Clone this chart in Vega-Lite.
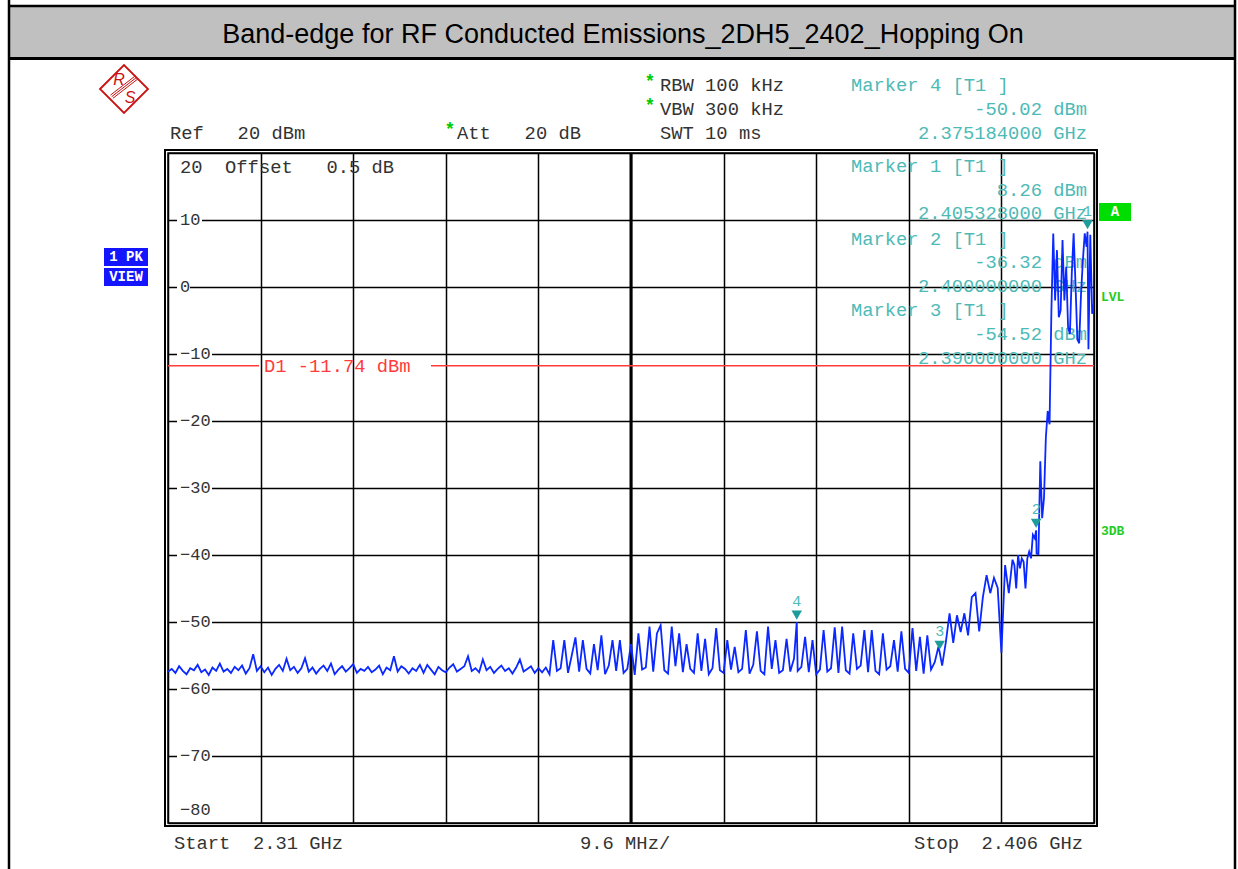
{
"$schema": "https://vega.github.io/schema/vega-lite/v6.json",
"width": 926, "height": 670,
"autosize": {"type": "none"},
"padding": {"left": 168, "top": 153, "right": 144, "bottom": 46},
"background": "white",
"config": {"view": {"stroke": "black", "strokeWidth": 1.5}, "text": {"font": "Liberation Mono", "fontSize": 18.8, "baseline": "middle", "align": "left"}},
"data": {"values": [{}]},
"datasets": {
"ylabels": [{"v":10},{"v":0},{"v":-10},{"v":-20},{"v":-30},{"v":-40},{"v":-50},{"v":-60},{"v":-70}],
"markers": [{"m":"1","f":2.405328,"p":8.26},{"m":"2","f":2.4,"p":-36.32},{"m":"3","f":2.39,"p":-54.52},{"m":"4","f":2.375184,"p":-50.02}],
"trace": [
{"f":2.310000,"p":-57.4},{"f":2.310384,"p":-57.0},{"f":2.310768,"p":-57.6},{"f":2.311152,"p":-56.6},{"f":2.311536,"p":-57.3},{"f":2.311920,"p":-57.8},{"f":2.312304,"p":-56.9},{"f":2.312688,"p":-57.2},{"f":2.313072,"p":-56.4},{"f":2.313456,"p":-57.5},
{"f":2.313840,"p":-57.1},{"f":2.314224,"p":-57.9},{"f":2.314608,"p":-56.8},{"f":2.314992,"p":-57.3},{"f":2.315376,"p":-56.2},{"f":2.315760,"p":-57.4},{"f":2.316144,"p":-57.0},{"f":2.316528,"p":-57.6},{"f":2.316912,"p":-56.7},{"f":2.317296,"p":-57.2},
{"f":2.317680,"p":-56.5},{"f":2.318064,"p":-57.7},{"f":2.318448,"p":-56.9},{"f":2.318832,"p":-54.8},{"f":2.319216,"p":-57.3},{"f":2.319600,"p":-56.6},{"f":2.319984,"p":-57.5},{"f":2.320368,"p":-56.8},{"f":2.320752,"p":-57.9},{"f":2.321136,"p":-57.0},
{"f":2.321520,"p":-56.4},{"f":2.321904,"p":-57.3},{"f":2.322288,"p":-55.5},{"f":2.322672,"p":-57.2},{"f":2.323056,"p":-56.7},{"f":2.323440,"p":-57.6},{"f":2.323824,"p":-56.9},{"f":2.324208,"p":-55.4},{"f":2.324592,"p":-57.4},{"f":2.324976,"p":-56.8},
{"f":2.325360,"p":-57.7},{"f":2.325744,"p":-57.0},{"f":2.326128,"p":-56.5},{"f":2.326512,"p":-57.3},{"f":2.326896,"p":-56.2},{"f":2.327280,"p":-57.8},{"f":2.327664,"p":-57.1},{"f":2.328048,"p":-56.6},{"f":2.328432,"p":-57.4},{"f":2.328816,"p":-56.9},
{"f":2.329200,"p":-56.3},{"f":2.329584,"p":-57.6},{"f":2.329968,"p":-57.0},{"f":2.330352,"p":-57.3},{"f":2.330736,"p":-56.7},{"f":2.331120,"p":-57.5},{"f":2.331504,"p":-57.1},{"f":2.331888,"p":-56.5},{"f":2.332272,"p":-57.8},{"f":2.332656,"p":-56.8},
{"f":2.333040,"p":-57.2},{"f":2.333424,"p":-55.1},{"f":2.333808,"p":-57.4},{"f":2.334192,"p":-56.6},{"f":2.334576,"p":-57.0},{"f":2.334960,"p":-57.7},{"f":2.335344,"p":-56.9},{"f":2.335728,"p":-57.3},{"f":2.336112,"p":-56.4},{"f":2.336496,"p":-57.6},
{"f":2.336880,"p":-56.4},{"f":2.337264,"p":-57.1},{"f":2.337648,"p":-57.8},{"f":2.338032,"p":-56.7},{"f":2.338416,"p":-57.2},{"f":2.338800,"p":-57.5},{"f":2.339184,"p":-56.8},{"f":2.339568,"p":-56.3},{"f":2.339952,"p":-57.4},{"f":2.340336,"p":-57.0},
{"f":2.340720,"p":-56.6},{"f":2.341104,"p":-55.1},{"f":2.341488,"p":-57.3},{"f":2.341872,"p":-56.9},{"f":2.342256,"p":-57.5},{"f":2.342640,"p":-55.6},{"f":2.343024,"p":-57.2},{"f":2.343408,"p":-56.7},{"f":2.343792,"p":-57.6},{"f":2.344176,"p":-57.0},
{"f":2.344560,"p":-56.5},{"f":2.344944,"p":-57.3},{"f":2.345328,"p":-56.9},{"f":2.345712,"p":-57.7},{"f":2.346096,"p":-56.8},{"f":2.346480,"p":-55.6},{"f":2.346864,"p":-57.4},{"f":2.347248,"p":-57.0},{"f":2.347632,"p":-56.6},{"f":2.348016,"p":-57.6},
{"f":2.348400,"p":-56.9},
{"f":2.348784,"p":-57.5},{"f":2.349168,"p":-56.8},{"f":2.349552,"p":-57.8},{"f":2.349936,"p":-52.7},{"f":2.350320,"p":-57.3},{"f":2.350704,"p":-56.9},{"f":2.351088,"p":-52.7},{"f":2.351472,"p":-57.6},{"f":2.351856,"p":-55.0},{"f":2.352240,"p":-52.3},
{"f":2.352624,"p":-57.4},{"f":2.353008,"p":-52.7},{"f":2.353392,"p":-57.0},{"f":2.353776,"p":-57.7},{"f":2.354160,"p":-53.3},{"f":2.354544,"p":-57.2},{"f":2.354928,"p":-52.0},{"f":2.355312,"p":-57.8},{"f":2.355696,"p":-56.5},{"f":2.356080,"p":-52.7},
{"f":2.356464,"p":-57.3},{"f":2.356848,"p":-52.7},{"f":2.357232,"p":-57.6},{"f":2.357616,"p":-57.0},{"f":2.358000,"p":-53.3},{"f":2.358384,"p":-57.9},{"f":2.358768,"p":-51.7},{"f":2.359152,"p":-57.1},{"f":2.359536,"p":-56.8},{"f":2.359920,"p":-50.7},
{"f":2.360304,"p":-57.4},{"f":2.360688,"p":-51.7},{"f":2.361072,"p":-50.5},{"f":2.361456,"p":-57.2},{"f":2.361840,"p":-57.7},{"f":2.362224,"p":-50.7},{"f":2.362608,"p":-56.6},{"f":2.362992,"p":-51.7},{"f":2.363376,"p":-57.5},{"f":2.363760,"p":-53.3},
{"f":2.364144,"p":-57.0},{"f":2.364528,"p":-57.6},{"f":2.364912,"p":-51.7},{"f":2.365296,"p":-57.3},{"f":2.365680,"p":-52.5},{"f":2.366064,"p":-57.8},{"f":2.366448,"p":-56.9},{"f":2.366832,"p":-50.9},{"f":2.367216,"p":-57.2},{"f":2.367600,"p":-57.6},
{"f":2.367984,"p":-52.7},{"f":2.368368,"p":-57.1},{"f":2.368752,"p":-53.7},{"f":2.369136,"p":-57.5},{"f":2.369520,"p":-57.0},{"f":2.369904,"p":-51.2},{"f":2.370288,"p":-57.7},{"f":2.370672,"p":-56.4},{"f":2.371056,"p":-51.4},{"f":2.371440,"p":-57.3},
{"f":2.371824,"p":-57.8},{"f":2.372208,"p":-50.7},{"f":2.372592,"p":-57.0},{"f":2.372976,"p":-52.7},{"f":2.373360,"p":-57.6},{"f":2.373744,"p":-57.2},{"f":2.374128,"p":-52.5},{"f":2.374512,"p":-57.4},{"f":2.374896,"p":-55.5},{"f":2.375184,"p":-50.02},
{"f":2.375280,"p":-57.3},{"f":2.375664,"p":-56.7},{"f":2.376048,"p":-52.2},{"f":2.376432,"p":-57.5},{"f":2.376816,"p":-52.7},{"f":2.377200,"p":-57.8},{"f":2.377584,"p":-57.1},{"f":2.377968,"p":-51.2},{"f":2.378352,"p":-57.4},{"f":2.378736,"p":-56.9},
{"f":2.379120,"p":-50.8},{"f":2.379504,"p":-57.6},{"f":2.379888,"p":-50.7},{"f":2.380272,"p":-57.2},{"f":2.380656,"p":-57.7},{"f":2.381040,"p":-51.7},{"f":2.381424,"p":-57.0},{"f":2.381808,"p":-56.5},{"f":2.382192,"p":-51.2},{"f":2.382576,"p":-57.5},
{"f":2.382960,"p":-51.2},{"f":2.383344,"p":-57.3},{"f":2.383728,"p":-57.8},{"f":2.384112,"p":-51.7},{"f":2.384496,"p":-57.1},{"f":2.384880,"p":-56.6},{"f":2.385264,"p":-52.7},{"f":2.385648,"p":-57.4},{"f":2.386032,"p":-51.4},{"f":2.386416,"p":-57.0},
{"f":2.386800,"p":-57.6},{"f":2.387184,"p":-50.9},{"f":2.387568,"p":-57.3},{"f":2.387952,"p":-52.2},{"f":2.388336,"p":-57.7},{"f":2.388720,"p":-52.0},{"f":2.389104,"p":-57.1},{"f":2.389488,"p":-56.0},{"f":2.389872,"p":-53.7},{"f":2.390000,"p":-54.52},
{"f":2.390256,"p":-56.5},{"f":2.390640,"p":-53.0},{"f":2.391024,"p":-48.7},{"f":2.391408,"p":-53.1},{"f":2.391792,"p":-49.0},{"f":2.392176,"p":-51.5},{"f":2.392560,"p":-48.7},{"f":2.392944,"p":-52.0},{"f":2.393328,"p":-46.3},{"f":2.393712,"p":-45.7},
{"f":2.394096,"p":-51.4},{"f":2.394480,"p":-46.3},{"f":2.394864,"p":-43.0},{"f":2.395248,"p":-45.7},{"f":2.395632,"p":-43.4},{"f":2.396016,"p":-44.9},{"f":2.396400,"p":-54.6},{"f":2.396784,"p":-41.5},{"f":2.397168,"p":-45.7},{"f":2.397552,"p":-40.7},
{"f":2.397744,"p":-41.5},{"f":2.397936,"p":-45.0},{"f":2.398128,"p":-40.0},{"f":2.398320,"p":-42.0},{"f":2.398512,"p":-40.5},{"f":2.398704,"p":-41.0},{"f":2.398896,"p":-45.0},{"f":2.399088,"p":-40.5},{"f":2.399280,"p":-39.5},{"f":2.399472,"p":-40.5},
{"f":2.399664,"p":-37.0},{"f":2.399856,"p":-37.5},{"f":2.400000,"p":-36.32},{"f":2.400048,"p":-39.8},{"f":2.400240,"p":-39.9},{"f":2.400432,"p":-26.0},{"f":2.400624,"p":-34.5},{"f":2.400816,"p":-31.5},{"f":2.401008,"p":-22.5},{"f":2.401200,"p":-18.5},
{"f":2.401392,"p":-20.5},{"f":2.401584,"p":-3.5},{"f":2.401776,"p":8.0},{"f":2.401968,"p":-2.0},{"f":2.402160,"p":5.5},{"f":2.402352,"p":-4.5},{"f":2.402544,"p":-3.5},{"f":2.402736,"p":7.0},{"f":2.402928,"p":-2.0},{"f":2.403120,"p":3.0},
{"f":2.403312,"p":-6.0},{"f":2.403504,"p":-7.0},{"f":2.403696,"p":2.0},{"f":2.403888,"p":8.0},{"f":2.404080,"p":0.5},{"f":2.404272,"p":-7.8},{"f":2.404464,"p":-8.4},{"f":2.404656,"p":-1.0},{"f":2.404848,"p":4.0},{"f":2.405040,"p":8.0},
{"f":2.405232,"p":6.0},{"f":2.405328,"p":8.26},{"f":2.405424,"p":-9.3},{"f":2.405616,"p":7.8},{"f":2.405808,"p":-4.0},{"f":2.406000,"p":-2.5}
]
},
"layer": [
{"mark": {"type": "rect", "color": "#C0C0C0"}, "encoding": {"x": {"datum": 2.293516, "scale": {"domain": [2.31, 2.406], "nice": false, "zero": false}}, "x2": {"datum": 2.420618}, "y": {"datum": 41.94, "scale": {"domain": [-80, 20], "nice": false, "zero": false}}, "y2": {"datum": 34.104}}},
{"mark": {"type": "rule", "color": "black", "strokeWidth": 2.5}, "encoding": {"x": {"datum": 2.293413}, "x2": {"datum": 2.420722}, "y": {"datum": 41.94}}},
{"mark": {"type": "rule", "color": "black", "strokeWidth": 3}, "encoding": {"x": {"datum": 2.293413}, "x2": {"datum": 2.420722}, "y": {"datum": 34.104}}},
{"mark": {"type": "rule", "color": "black", "strokeWidth": 2.5}, "encoding": {"x": {"datum": 2.293516}, "y": {"datum": 42.836}, "y2": {"datum": -86.866}}},
{"mark": {"type": "rule", "color": "black", "strokeWidth": 2.5}, "encoding": {"x": {"datum": 2.420618}, "y": {"datum": 42.836}, "y2": {"datum": -86.866}}},
{"mark": {"type": "text", "text": "Band-edge for RF Conducted Emissions_2DH5_2402_Hopping On", "font": "Liberation Sans", "fontSize": 27, "align": "center", "color": "black"}, "encoding": {"x": {"datum": 2.357171}, "y": {"datum": 37.612}}},
{"mark": {"type": "point", "shape": "diamond", "size": 2304, "filled": false, "stroke": "#CC1111", "strokeWidth": 1.8, "opacity": 1}, "encoding": {"x": {"datum": 2.305439}, "y": {"datum": 29.552}}},
{"mark": {"type": "rule", "color": "#CC1111", "strokeWidth": 1}, "encoding": {"x": {"datum": 2.304163}, "x2": {"datum": 2.306755}, "y": {"datum": 28.403}, "y2": {"datum": 31.299}}},
{"mark": {"type": "rule", "color": "#CC1111", "strokeWidth": 1}, "encoding": {"x": {"datum": 2.304288}, "x2": {"datum": 2.306879}, "y": {"datum": 28.164}, "y2": {"datum": 31.06}}},
{"mark": {"type": "rule", "color": "#CC1111", "strokeWidth": 1}, "encoding": {"x": {"datum": 2.304039}, "x2": {"datum": 2.306631}, "y": {"datum": 28.642}, "y2": {"datum": 31.537}}},
{"mark": {"type": "text", "text": "R", "font": "Liberation Sans", "fontSize": 16, "fontStyle": "italic", "align": "center", "color": "#CC1111"}, "encoding": {"x": {"datum": 2.30492}, "y": {"datum": 30.896}}},
{"mark": {"type": "text", "text": "S", "font": "Liberation Sans", "fontSize": 16, "fontStyle": "italic", "align": "center", "color": "#CC1111"}, "encoding": {"x": {"datum": 2.30606}, "y": {"datum": 28.209}}},
{"mark": {"type": "text", "text": "Ref\u00a0\u00a0\u00a020 dBm", "color": "#333333"}, "encoding": {"x": {"datum": 2.310207}, "y": {"datum": 22.985}}},
{"mark": {"type": "text", "text": "*", "color": "#00CC00", "fontSize": 18, "fontWeight": "bold", "align": "center"}, "encoding": {"x": {"datum": 2.339236}, "y": {"datum": 23.433}}},
{"mark": {"type": "text", "text": "Att\u00a0\u00a0\u00a020 dB", "color": "#333333"}, "encoding": {"x": {"datum": 2.339961}, "y": {"datum": 22.985}}},
{"mark": {"type": "text", "text": "*", "color": "#00CC00", "fontSize": 18, "fontWeight": "bold", "align": "center"}, "encoding": {"x": {"datum": 2.35997}, "y": {"datum": 30.597}}},
{"mark": {"type": "text", "text": "RBW 100 kHz", "color": "#333333"}, "encoding": {"x": {"datum": 2.361007}, "y": {"datum": 30.149}}},
{"mark": {"type": "text", "text": "*", "color": "#00CC00", "fontSize": 18, "fontWeight": "bold", "align": "center"}, "encoding": {"x": {"datum": 2.35997}, "y": {"datum": 27.015}}},
{"mark": {"type": "text", "text": "VBW 300 kHz", "color": "#333333"}, "encoding": {"x": {"datum": 2.361007}, "y": {"datum": 26.567}}},
{"mark": {"type": "text", "text": "SWT 10 ms", "color": "#333333"}, "encoding": {"x": {"datum": 2.361007}, "y": {"datum": 22.985}}},
{"mark": {"type": "text", "text": "Marker 4 [T1 ]", "color": "#4DBAB6"}, "encoding": {"x": {"datum": 2.380808}, "y": {"datum": 30.149}}},
{"mark": {"type": "text", "text": "-50.02 dBm", "color": "#4DBAB6", "align": "right"}, "encoding": {"x": {"datum": 2.405275}, "y": {"datum": 26.567}}},
{"mark": {"type": "text", "text": "2.375184000 GHz", "color": "#4DBAB6", "align": "right"}, "encoding": {"x": {"datum": 2.405275}, "y": {"datum": 22.985}}},
{"mark": {"type": "rect", "color": "#1414FF"}, "encoding": {"x": {"datum": 2.303365}, "x2": {"datum": 2.307927}, "y": {"datum": 5.821}, "y2": {"datum": 3.134}}},
{"mark": {"type": "rect", "color": "#1414FF"}, "encoding": {"x": {"datum": 2.303365}, "x2": {"datum": 2.307927}, "y": {"datum": 2.836}, "y2": {"datum": 0.149}}},
{"mark": {"type": "text", "text": "1 PK", "color": "white", "fontSize": 14, "fontWeight": "bold", "align": "center"}, "encoding": {"x": {"datum": 2.305646}, "y": {"datum": 4.478}}},
{"mark": {"type": "text", "text": "VIEW", "color": "white", "fontSize": 14, "fontWeight": "bold", "align": "center"}, "encoding": {"x": {"datum": 2.305646}, "y": {"datum": 1.493}}},
{"mark": {"type": "rect", "color": "#00DD00"}, "encoding": {"x": {"datum": 2.406519}, "x2": {"datum": 2.409836}, "y": {"datum": 12.537}, "y2": {"datum": 9.851}}},
{"mark": {"type": "text", "text": "A", "color": "white", "fontSize": 14, "fontWeight": "bold", "align": "center"}, "encoding": {"x": {"datum": 2.408177}, "y": {"datum": 11.194}}},
{"mark": {"type": "text", "text": "LVL", "color": "#22CC22", "fontSize": 13, "fontWeight": "bold"}, "encoding": {"x": {"datum": 2.406727}, "y": {"datum": -1.493}}},
{"mark": {"type": "text", "text": "3DB", "color": "#22CC22", "fontSize": 13, "fontWeight": "bold"}, "encoding": {"x": {"datum": 2.406727}, "y": {"datum": -36.418}}},
{"mark": {"type": "rect", "fillOpacity": 0, "stroke": "black", "strokeWidth": 2}, "encoding": {"x": {"datum": 2.309689}, "x2": {"datum": 2.406311}, "y": {"datum": 20.448}, "y2": {"datum": -80.448}}},
{"mark": {"type": "rule", "color": "black", "strokeWidth": 3}, "encoding": {"x": {"datum": 2.358}, "y": {"datum": 20}, "y2": {"datum": -80}}},
{"mark": {"type": "text", "text": "20\u00a0\u00a0Offset\u00a0\u00a0\u00a00.5 dB", "color": "#333333"}, "encoding": {"x": {"datum": 2.311244}, "y": {"datum": 17.91}}},
{"mark": {"type": "text", "text": "Marker 1 [T1 ]", "color": "#4DBAB6"}, "encoding": {"x": {"datum": 2.380808}, "y": {"datum": 18.06}}},
{"mark": {"type": "text", "text": "8.26 dBm", "color": "#4DBAB6", "align": "right"}, "encoding": {"x": {"datum": 2.405275}, "y": {"datum": 14.478}}},
{"mark": {"type": "text", "text": "2.405328000 GHz", "color": "#4DBAB6", "align": "right"}, "encoding": {"x": {"datum": 2.405275}, "y": {"datum": 11.045}}},
{"mark": {"type": "text", "text": "Marker 2 [T1 ]", "color": "#4DBAB6"}, "encoding": {"x": {"datum": 2.380808}, "y": {"datum": 7.164}}},
{"mark": {"type": "text", "text": "-36.32 dBm", "color": "#4DBAB6", "align": "right"}, "encoding": {"x": {"datum": 2.405275}, "y": {"datum": 3.731}}},
{"mark": {"type": "text", "text": "2.400000000 GHz", "color": "#4DBAB6", "align": "right"}, "encoding": {"x": {"datum": 2.405275}, "y": {"datum": 0.149}}},
{"mark": {"type": "text", "text": "Marker 3 [T1 ]", "color": "#4DBAB6"}, "encoding": {"x": {"datum": 2.380808}, "y": {"datum": -3.433}}},
{"mark": {"type": "text", "text": "-54.52 dBm", "color": "#4DBAB6", "align": "right"}, "encoding": {"x": {"datum": 2.405275}, "y": {"datum": -7.015}}},
{"mark": {"type": "text", "text": "2.390000000 GHz", "color": "#4DBAB6", "align": "right"}, "encoding": {"x": {"datum": 2.405275}, "y": {"datum": -10.597}}},
{"data": {"name": "ylabels"}, "transform": [{"filter": "datum.v == 0"}], "mark": {"type": "rule", "color": "white", "strokeWidth": 4}, "encoding": {"x": {"datum": 2.310933}, "x2": {"datum": 2.312281}, "y": {"field": "v", "type": "quantitative"}}},
{"data": {"name": "ylabels"}, "transform": [{"filter": "datum.v == 10"}], "mark": {"type": "rule", "color": "white", "strokeWidth": 4}, "encoding": {"x": {"datum": 2.310933}, "x2": {"datum": 2.313525}, "y": {"field": "v", "type": "quantitative"}}},
{"data": {"name": "ylabels"}, "transform": [{"filter": "datum.v < 0"}], "mark": {"type": "rule", "color": "white", "strokeWidth": 4}, "encoding": {"x": {"datum": 2.310933}, "x2": {"datum": 2.314562}, "y": {"field": "v", "type": "quantitative"}}},
{"data": {"name": "ylabels"}, "mark": {"type": "text", "color": "#333333", "fontSize": 17}, "encoding": {"x": {"datum": 2.311244}, "y": {"field": "v", "type": "quantitative"}, "text": {"field": "v", "type": "quantitative"}}},
{"mark": {"type": "text", "text": "−80", "color": "#333333", "fontSize": 17}, "encoding": {"x": {"datum": 2.311244}, "y": {"datum": -78.06}}},
{"mark": {"type": "rule", "color": "#FF3B3B", "strokeWidth": 1.5}, "encoding": {"x": {"datum": 2.31}, "x2": {"datum": 2.319434}, "y": {"datum": -11.74}}},
{"mark": {"type": "rule", "color": "#FF3B3B", "strokeWidth": 1.5}, "encoding": {"x": {"datum": 2.337266}, "x2": {"datum": 2.406}, "y": {"datum": -11.74}}},
{"mark": {"type": "text", "text": "D1 -11.74 dBm", "color": "#FF3B3B"}, "encoding": {"x": {"datum": 2.319953}, "y": {"datum": -11.74}}},
{"mark": {"type": "text", "text": "Start\u00a0\u00a02.31 GHz", "color": "#333333"}, "encoding": {"x": {"datum": 2.310622}, "y": {"datum": -82.985}}},
{"mark": {"type": "text", "text": "9.6 MHz/", "color": "#333333"}, "encoding": {"x": {"datum": 2.352713}, "y": {"datum": -82.985}}},
{"mark": {"type": "text", "text": "Stop\u00a0\u00a02.406 GHz", "color": "#333333", "align": "right"}, "encoding": {"x": {"datum": 2.40486}, "y": {"datum": -82.985}}},
{"data": {"name": "trace"}, "mark": {"type": "line", "color": "#0A28FF", "strokeWidth": 1.8, "clip": true},
 "encoding": {
  "x": {"field": "f", "type": "quantitative", "scale": {"domain": [2.31, 2.406], "nice": false, "zero": false},
        "axis": {"values": [2.31, 2.3196, 2.3292, 2.3388, 2.3484, 2.358, 2.3676, 2.3772, 2.3868, 2.3964, 2.406], "grid": true, "gridColor": "black", "gridWidth": 1.5, "gridOpacity": 1, "domain": false, "ticks": false, "labels": false, "title": null}},
  "y": {"field": "p", "type": "quantitative", "scale": {"domain": [-80, 20], "nice": false, "zero": false},
        "axis": {"values": [-80, -70, -60, -50, -40, -30, -20, -10, 0, 10, 20], "grid": true, "gridColor": "black", "gridWidth": 1.5, "gridOpacity": 1, "domain": false, "ticks": false, "labels": false, "title": null}}
 }},
{"data": {"name": "markers"}, "mark": {"type": "point", "shape": "triangle-down", "filled": true, "color": "#1E9C9C", "size": 110, "yOffset": -7, "opacity": 1}, "encoding": {"x": {"field": "f", "type": "quantitative"}, "y": {"field": "p", "type": "quantitative"}}},
{"data": {"name": "markers"}, "mark": {"type": "text", "color": "#4DBAB6", "fontSize": 15, "yOffset": -21, "align": "center"}, "encoding": {"x": {"field": "f", "type": "quantitative"}, "y": {"field": "p", "type": "quantitative"}, "text": {"field": "m", "type": "nominal"}}}
]
}
